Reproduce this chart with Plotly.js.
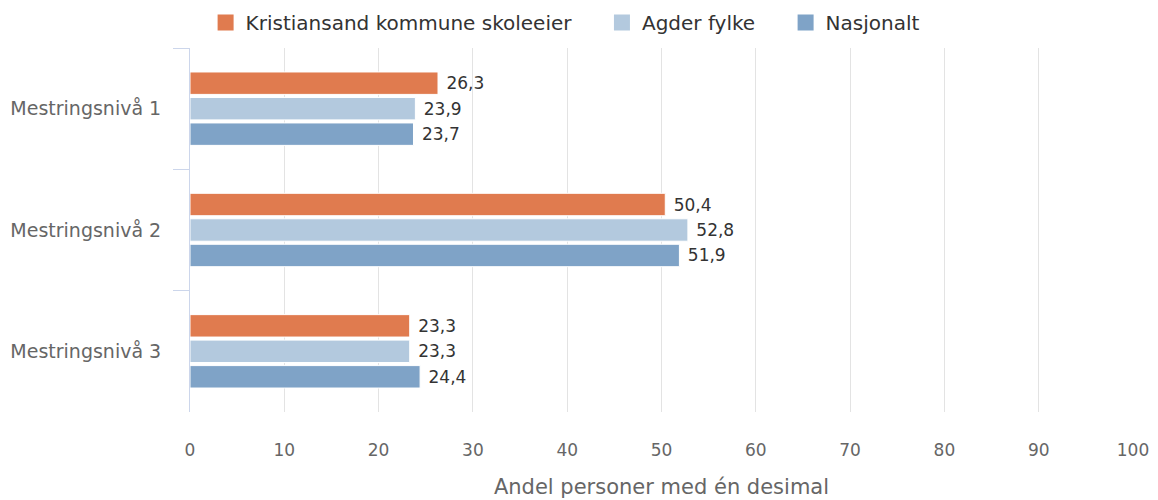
<!DOCTYPE html>
<html><head><meta charset="utf-8">
<script src="https://cdn.plot.ly/plotly-3.0.1.min.js"></script>
<style>html,body{margin:0;padding:0;background:#fff}#chart{width:1158px;height:500px}</style>
</head><body><div id="chart"></div>
<script>
const categories = ["Mestringsnivå 1", "Mestringsnivå 2", "Mestringsnivå 3"];
const seriesNames = ["Kristiansand kommune skoleeier", "Agder fylke", "Nasjonalt"];
const kristiansand = [26.3, 50.4, 23.3];
const agder = [23.9, 52.8, 23.3];
const nasjonalt = [23.7, 51.9, 24.4];
const xTicks = [0, 10, 20, 30, 40, 50, 60, 70, 80, 90, 100];
const colors = ["#E07B4F", "#B3C9DE", "#7FA3C7"];
const FONT = "DejaVu Sans, sans-serif";

const data = [kristiansand, agder, nasjonalt].map((vals, i) => ({
  type: "bar", orientation: "h", name: seriesNames[i],
  y: categories, x: vals, showlegend: false,
  marker: {color: colors[i], line: {color: "#ffffff", width: 1}},
  text: vals.map(v => v.toFixed(1).replace(".", ",")),
  texttemplate: " %{text}",
  textposition: "outside", cliponaxis: false,
  textfont: {family: FONT, size: 17, color: "#333333"},
  hoverinfo: "x+name"
}));
// legend-only proxies with larger square symbols
const pad = "\u00a0\u00a0\u00a0\u00a0";
seriesNames.forEach((n, i) => data.push({
  type: "scatter", mode: "markers", name: i < seriesNames.length - 1 ? n + pad : n, x: [null], y: [null],
  marker: {symbol: "square", size: 19, color: colors[i]}, showlegend: true
}));

const layout = {
  width: 1158, height: 500,
  margin: {l: 190, r: 25, t: 48, b: 88},
  paper_bgcolor: "#fff", plot_bgcolor: "#fff",
  font: {family: FONT, color: "#666666"},
  barmode: "group", bargap: 0.37, bargroupgap: 0.12,
  separators: ",.",
  showlegend: true,
  legend: {orientation: "h", x: 0.488, xanchor: "center", xref: "container", y: 0.994, yanchor: "top", yref: "container",
           font: {family: FONT, size: 20, color: "#333333"}, traceorder: "normal", itemwidth: 30},
  xaxis: {range: [0, 100], tickvals: xTicks, ticktext: xTicks.map(String),
          showgrid: true, gridcolor: "#e3e3e3", gridwidth: 1, zeroline: false,
          showline: false, ticks: "", ticklabelstandoff: 26,
          tickfont: {family: FONT, size: 17, color: "#666666"},
          title: {text: "Andel personer med én desimal", font: {family: FONT, size: 21, color: "#666666"}, standoff: 20},
          fixedrange: true},
  yaxis: {autorange: "reversed", type: "category", showline: true, linecolor: "#ccd6eb", linewidth: 1,
          ticks: "outside", tickson: "boundaries", ticklen: 16, tickcolor: "#ccd6eb",
          showgrid: false, zeroline: false, ticklabelstandoff: 24,
          tickfont: {family: FONT, size: 19, color: "#666666"}, fixedrange: true}
};
Plotly.newPlot("chart", data, layout, {displayModeBar: false, staticPlot: true});
</script></body></html>
